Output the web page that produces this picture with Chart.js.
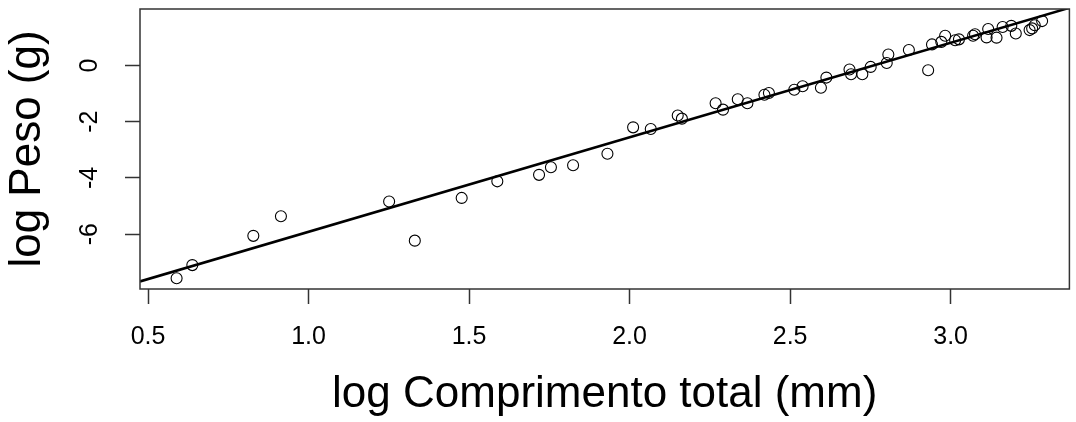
<!DOCTYPE html>
<html>
<head>
<meta charset="utf-8">
<script src="https://cdn.jsdelivr.net/npm/chart.js@4.4.1/dist/chart.umd.min.js"></script>
<style>
  html, body { margin: 0; padding: 0; background: #fff; }
  #grafico { display: block; }
</style>
</head>
<body>
<canvas id="grafico" width="1076" height="422"></canvas>
<script>
// log comprimento total (mm) vs log peso (g)
const logComprimento = [0.589, 0.638, 0.828, 0.914, 1.251, 1.331, 1.477, 1.588, 1.718, 1.755,
  1.824, 1.931, 2.011, 2.066, 2.150, 2.163, 2.268, 2.291, 2.337, 2.367,
  2.420, 2.434, 2.513, 2.539, 2.596, 2.613, 2.685, 2.690, 2.725, 2.751,
  2.801, 2.806, 2.870, 2.930, 2.942, 2.971, 2.983, 3.014, 3.026, 3.070,
  3.076, 3.112, 3.117, 3.143, 3.162, 3.189, 3.203, 3.246, 3.254, 3.262, 3.285];
const logPeso = [-7.57, -7.10, -6.06, -5.36, -4.84, -6.23, -4.71, -4.12, -3.89, -3.62,
  -3.55, -3.14, -2.20, -2.26, -1.78, -1.89, -1.34, -1.57, -1.20, -1.34,
  -1.04, -0.98, -0.86, -0.74, -0.79, -0.43, -0.14, -0.31, -0.31, -0.05,
  0.09, 0.39, 0.55, -0.17, 0.75, 0.84, 1.06, 0.90, 0.93, 1.06,
  1.11, 1.00, 1.30, 0.99, 1.37, 1.41, 1.14, 1.26, 1.32, 1.43, 1.58];

// recta ajustada (extremos)
const retaX = [0.475, 3.37];
const retaY = [-7.68, 2.05];

const ticksX = [0.5, 1.0, 1.5, 2.0, 2.5, 3.0];
const ticksY = [-6, -4, -2, 0];

const fonte = "'Liberation Sans', Arial, sans-serif";

const caixa = {
  id: 'caixa',
  afterDatasetsDraw(chart) {
    const { ctx, chartArea: a } = chart;
    ctx.save();
    ctx.strokeStyle = '#333';
    ctx.lineWidth = 1.5;
    ctx.strokeRect(a.left, a.top, a.right - a.left, a.bottom - a.top);
    ctx.restore();
  }
};

const semPadding = s => { s.paddingTop = 0; s.paddingBottom = 0; s.paddingLeft = 0; s.paddingRight = 0; };

const pontos = logComprimento.map((x, i) => ({ x: x, y: logPeso[i] }));
const reta = retaX.map((x, i) => ({ x: x, y: retaY[i] }));

new Chart(document.getElementById('grafico').getContext('2d'), {
  type: 'scatter',
  data: {
    datasets: [
      {
        data: pontos,
        pointRadius: 5.5,
        pointBorderWidth: 1.1,
        borderColor: '#000',
        backgroundColor: 'rgba(0,0,0,0)',
        pointHoverRadius: 5.5
      },
      {
        type: 'line',
        data: reta,
        borderColor: '#000',
        borderWidth: 2.6,
        pointRadius: 0,
        fill: false
      }
    ]
  },
  options: {
    responsive: false,
    animation: false,
    devicePixelRatio: 1,
    layout: { padding: { top: 9, right: 0, left: 0, bottom: 0 } },
    plugins: { legend: { display: false }, tooltip: { enabled: false } },
    scales: {
      x: {
        type: 'linear',
        min: 0.475,
        max: 3.37,
        afterBuildTicks: s => { s.ticks = ticksX.map(v => ({ value: v })); },
        afterFit: s => { s.height = 133; semPadding(s); },
        border: { display: false },
        grid: { drawOnChartArea: false, drawTicks: true, tickLength: 15, tickColor: '#333', tickWidth: 1.5 },
        ticks: {
          color: '#000',
          font: { family: fonte, size: 25 },
          padding: 18,
          maxRotation: 0,
          callback: v => Number(v).toFixed(1)
        },
        title: {
          display: true,
          text: 'log Comprimento total (mm)',
          color: '#000',
          font: { family: fonte, size: 44 },
          padding: { top: 0, bottom: 1 }
        }
      },
      y: {
        type: 'linear',
        min: -7.95,
        max: 2.01,
        afterBuildTicks: s => { s.ticks = ticksY.map(v => ({ value: v })); },
        afterFit: s => { s.width = 140; semPadding(s); },
        border: { display: false },
        grid: { drawOnChartArea: false, drawTicks: true, tickLength: 15, tickColor: '#333', tickWidth: 1.5 },
        ticks: {
          color: '#000',
          font: { family: fonte, size: 25 },
          padding: 24,
          minRotation: 90,
          maxRotation: 90,
          crossAlign: 'center',
          callback: v => String(v)
        },
        title: {
          display: true,
          text: 'log Peso (g)',
          color: '#000',
          font: { family: fonte, size: 44 },
          padding: { top: 1, bottom: 0 }
        }
      }
    }
  },
  plugins: [caixa]
});
</script>
</body>
</html>
